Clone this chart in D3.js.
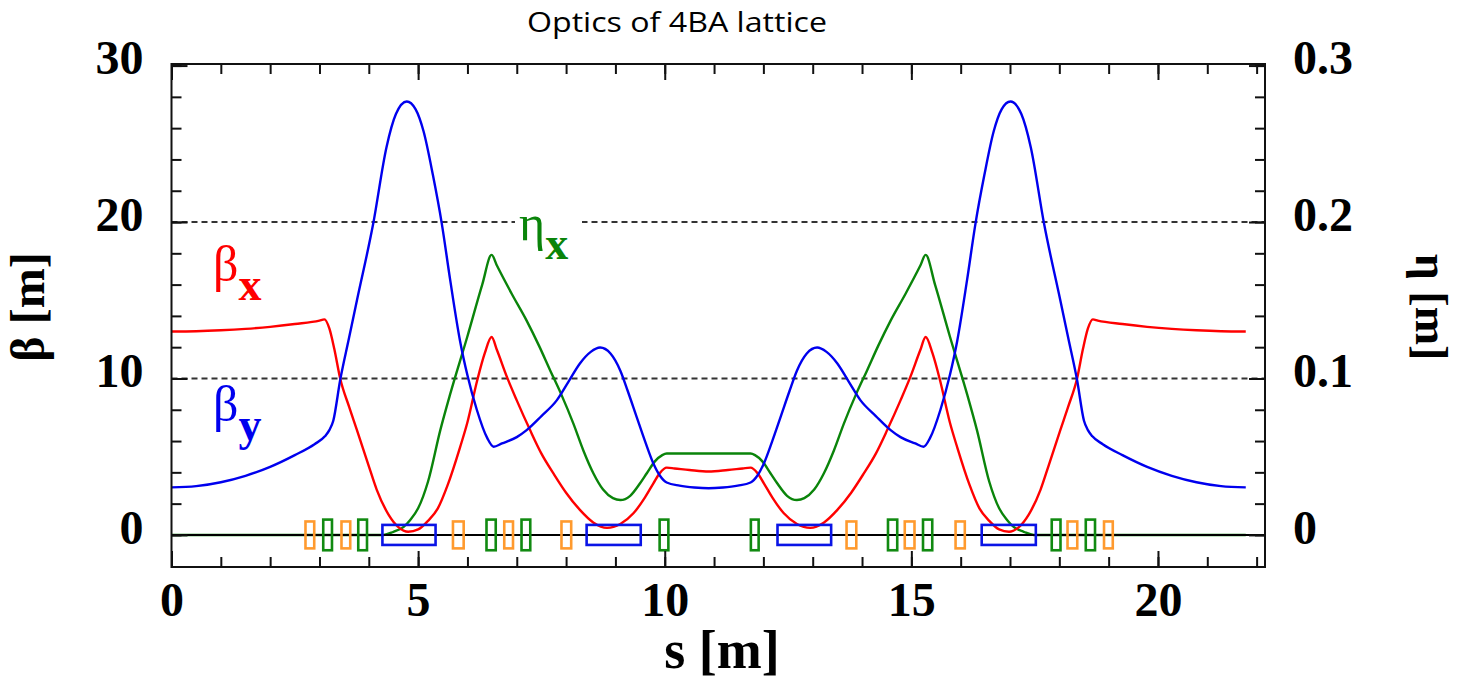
<!DOCTYPE html>
<html>
<head>
<meta charset="utf-8">
<script src="https://cdn.jsdelivr.net/npm/d3@7"></script>
<style>
  body { margin: 0; background: #fff; }
  svg { display: block; }
</style>
</head>
<body>
<svg id="chart" width="1458" height="685"></svg>
<script>
// Beta functions and dispersion (s in m).
const sBetaX = [0, 0.5, 1.0, 1.5, 2.0, 2.5, 3.0, 3.1, 3.2, 3.3, 3.42, 3.6, 3.76, 4.0, 4.16, 4.4, 4.6, 4.8, 5.0, 5.2, 5.4, 5.6, 5.85, 6.0, 6.2, 6.35, 6.49, 6.6, 6.8, 7.0, 7.27, 7.5, 7.75, 8.0, 8.28, 8.55, 8.83, 9.1, 9.37, 9.6, 9.77, 9.9, 10.04, 10.2, 10.5, 10.89,
  11.28, 11.58, 11.74, 11.88, 12.01, 12.18, 12.41, 12.68, 12.95, 13.23, 13.5, 13.78, 14.03, 14.28, 14.51, 14.78, 14.98, 15.18, 15.29, 15.43, 15.58, 15.78, 15.93, 16.18, 16.38, 16.58, 16.78, 16.98, 17.18, 17.38, 17.62, 17.78, 18.02, 18.18, 18.36, 18.48, 18.58, 18.68, 18.78, 19.28, 19.78, 20.28, 20.78, 21.28, 21.78];
const betaX = [13.0, 13.02, 13.08, 13.17, 13.3, 13.48, 13.7, 13.78, 13.2, 11.9, 10.0, 8.2, 6.7, 4.4, 2.9, 1.3, 0.5, 0.2, 0.35, 0.9, 1.7, 3.2, 5.6, 7.2, 9.9, 11.6, 12.65, 11.8, 10.1, 8.6, 6.7, 5.2, 3.9, 2.7, 1.6, 0.8, 0.45, 0.7, 1.4, 2.4, 3.3, 3.95, 4.3, 4.25, 4.15, 4.05,
  4.15, 4.25, 4.3, 3.95, 3.3, 2.4, 1.4, 0.7, 0.45, 0.8, 1.6, 2.7, 3.9, 5.2, 6.7, 8.6, 10.1, 11.8, 12.65, 11.6, 9.9, 7.2, 5.6, 3.2, 1.7, 0.9, 0.35, 0.2, 0.5, 1.3, 2.9, 4.4, 6.7, 8.2, 10.0, 11.9, 13.2, 13.78, 13.7, 13.48, 13.3, 13.17, 13.08, 13.02, 13.0];

const sBetaY = [0, 0.5, 1.0, 1.5, 2.0, 2.5, 2.9, 3.11, 3.2, 3.28, 3.42, 3.6, 3.76, 4.09, 4.36, 4.55, 4.77, 4.95, 5.11, 5.3, 5.48, 5.65, 5.85, 6.0, 6.19, 6.4, 6.53, 6.7, 7.0, 7.2, 7.5, 7.81, 8.05, 8.28, 8.5, 8.69, 8.9, 9.1, 9.25, 9.43, 9.6, 9.77, 9.9, 10.04, 10.3, 10.6, 10.89,
  11.18, 11.48, 11.74, 11.88, 12.01, 12.18, 12.35, 12.53, 12.68, 12.88, 13.09, 13.28, 13.5, 13.73, 13.97, 14.28, 14.58, 14.78, 15.08, 15.25, 15.38, 15.59, 15.78, 15.93, 16.13, 16.3, 16.48, 16.67, 16.83, 17.01, 17.23, 17.42, 17.69, 18.02, 18.18, 18.36, 18.5, 18.58, 18.67, 18.88, 19.28, 19.78, 20.28, 20.78, 21.28, 21.78];
const betaY = [3.04, 3.12, 3.37, 3.78, 4.35, 5.1, 5.8, 6.3, 6.7, 7.3, 9.9, 12.6, 15.0, 19.9, 24.8, 26.9, 27.7, 27.2, 25.8, 23.0, 19.9, 16.3, 12.4, 10.2, 8.0, 6.2, 5.64, 5.85, 6.25, 6.7, 7.6, 8.6, 9.8, 10.96, 11.7, 11.98, 11.6, 10.5, 9.2, 7.55, 6.0, 4.57, 3.8, 3.35, 3.15, 3.03, 2.98,
  3.03, 3.15, 3.35, 3.8, 4.57, 6.0, 7.55, 9.2, 10.5, 11.6, 11.98, 11.7, 10.96, 9.8, 8.6, 7.6, 6.7, 6.25, 5.85, 5.64, 6.2, 8.0, 10.2, 12.4, 16.3, 19.9, 23.0, 25.8, 27.2, 27.7, 26.9, 24.8, 19.9, 15.0, 12.6, 9.9, 7.3, 6.7, 6.3, 5.8, 5.1, 4.35, 3.78, 3.37, 3.12, 3.04];

const sEtaX = [0, 4.3, 4.5, 4.7, 4.84, 5.0, 5.2, 5.45, 5.65, 6.0, 6.3, 6.49, 6.6, 6.9, 7.2, 7.45, 7.68, 7.9, 8.15, 8.35, 8.55, 8.75, 8.95, 9.1, 9.3, 9.5, 9.64, 9.8, 9.95, 10.04, 10.89,
  11.74, 11.83, 11.98, 12.14, 12.28, 12.48, 12.68, 12.83, 13.03, 13.23, 13.43, 13.63, 13.88, 14.1, 14.33, 14.58, 14.88, 15.18, 15.29, 15.48, 15.78, 16.13, 16.33, 16.58, 16.78, 16.94, 17.08, 17.28, 17.48, 21.78];
const etaX = [0, 0, 0.002, 0.005, 0.0096, 0.017, 0.034, 0.067, 0.09, 0.127, 0.16, 0.179, 0.172, 0.154, 0.137, 0.121, 0.105, 0.09, 0.071, 0.054, 0.0396, 0.029, 0.0235, 0.0223, 0.025, 0.033, 0.0396, 0.047, 0.051, 0.052, 0.052,
  0.052, 0.051, 0.047, 0.0396, 0.033, 0.025, 0.0223, 0.0235, 0.029, 0.0396, 0.054, 0.071, 0.09, 0.105, 0.121, 0.137, 0.154, 0.172, 0.179, 0.16, 0.127, 0.09, 0.067, 0.034, 0.017, 0.0096, 0.005, 0.002, 0, 0];

// Magnet positions [start, end] in m.
const quadrupoles = [[3.05, 3.28], [3.76, 3.99], [6.36, 6.6], [7.07, 7.3], [9.87, 10.1], [11.72, 11.93], [14.5, 14.74], [15.21, 15.45], [17.82, 18.05], [18.51, 18.75]];
const sextupoles = [[2.69, 2.92], [3.42, 3.65], [5.68, 5.95], [6.72, 6.95], [7.88, 8.13], [13.66, 13.91], [14.84, 15.09], [15.87, 16.11], [18.14, 18.39], [18.88, 19.11]];
const dipoles = [[4.25, 5.38], [8.39, 9.54], [12.26, 13.4], [16.4, 17.55]];

// Ticks
const betaTicks = [0, 10, 20, 30];
const etaTicks = [0, 0.1, 0.2, 0.3];
const sTicks = [0, 5, 10, 15, 20];

const serif = 'Liberation Serif, Times New Roman, serif';
const plot = { left: 171.5, right: 1265, top: 64, bottom: 567 };

const svg = d3.select('#chart');
const x = d3.scaleLinear().domain([0, 22.17]).range([plot.left, plot.right]);
const y = d3.scaleLinear().domain([-2.05, 30.1]).range([plot.bottom, plot.top]);
const yEta = d3.scaleLinear().domain([-0.0205, 0.301]).range([plot.bottom, plot.top]);

svg.append('rect').attr('width', 1458).attr('height', 685).attr('fill', '#fff');

// Title
svg.append('text')
  .attr('x', 677).attr('y', 32)
  .attr('text-anchor', 'middle')
  .attr('font-family', 'Open Sans, sans-serif')
  .attr('font-size', 28)
  .attr('textLength', 300)
  .attr('lengthAdjust', 'spacingAndGlyphs')
  .text('Optics of 4BA lattice');

// Dashed reference lines at 10 and 20
svg.append('g').selectAll('line')
  .data([10, 20])
  .join('line')
  .attr('x1', plot.left).attr('x2', plot.right)
  .attr('y1', (d) => y(d)).attr('y2', (d) => y(d))
  .attr('stroke', '#333')
  .attr('stroke-width', 2)
  .attr('stroke-dasharray', '6,4');

// Magnets
function drawMagnets(data, half, color) {
  svg.append('g').selectAll('rect')
    .data(data)
    .join('rect')
    .attr('x', (d) => x(d[0]) + 1.3)
    .attr('width', (d) => x(d[1]) - x(d[0]) - 2.6)
    .attr('y', y(half))
    .attr('height', y(-half) - y(half))
    .attr('fill', 'none')
    .attr('stroke', color)
    .attr('stroke-width', 2.6);
}

// Curves
function drawCurve(sArr, vArr, scale, color) {
  const line = d3.line()
    .x((d) => x(d[0]))
    .y((d) => scale(d[1]))
    .curve(d3.curveMonotoneX);
  svg.append('path')
    .datum(d3.zip(sArr, vArr))
    .attr('d', line)
    .attr('fill', 'none')
    .attr('stroke', color)
    .attr('stroke-width', 2.4);
}
drawCurve(sEtaX, etaX, yEta, '#0a840a');
drawCurve(sBetaX, betaX, y, '#ff0000');
drawCurve(sBetaY, betaY, y, '#0000ee');

// Zero line (over the flat part of eta)
svg.append('line')
  .attr('x1', plot.left).attr('x2', plot.right)
  .attr('y1', y(0)).attr('y2', y(0))
  .attr('stroke', '#000')
  .attr('stroke-width', 2);

drawMagnets(sextupoles, 0.86, '#ff9a2e');
drawMagnets(quadrupoles, 0.98, '#118a11');
drawMagnets(dipoles, 0.64, '#0a14e6');

// Axes (ticks point inward)
function styleAxis(g) {
  g.select('.domain').remove();
  g.selectAll('line').attr('stroke', '#111').attr('stroke-width', 2);
  g.selectAll('text')
    .attr('font-family', serif)
    .attr('font-weight', 'bold')
    .attr('font-size', 48)
    .attr('fill', '#000');
}
const minorBeta = d3.range(0, 31, 2);
const minorS = d3.range(0, 23, 1);

svg.append('g').attr('transform', `translate(${plot.left},0)`)
  .call(d3.axisLeft(y).tickValues(minorBeta).tickSize(-10).tickFormat(''))
  .call(styleAxis);
svg.append('g').attr('transform', `translate(${plot.left},0)`)
  .call(d3.axisLeft(y).tickValues(betaTicks).tickSize(-16).tickPadding(28).tickFormat(d3.format('d')))
  .call(styleAxis)
  .call((g) => g.selectAll('text').attr('dy', '0.17em'));

svg.append('g').attr('transform', `translate(${plot.right},0)`)
  .call(d3.axisRight(yEta).tickValues(minorBeta.map((d) => d / 100)).tickSize(-10).tickFormat(''))
  .call(styleAxis);
svg.append('g').attr('transform', `translate(${plot.right},0)`)
  .call(d3.axisRight(yEta).tickValues(etaTicks).tickSize(-16).tickPadding(28)
    .tickFormat((d) => (d === 0 ? '0' : d.toFixed(1))))
  .call(styleAxis)
  .call((g) => g.selectAll('text').attr('dy', '0.17em'));

svg.append('g').attr('transform', `translate(0,${plot.bottom})`)
  .call(d3.axisBottom(x).tickValues(minorS).tickSize(-10).tickFormat(''))
  .call(styleAxis);
svg.append('g').attr('transform', `translate(0,${plot.bottom})`)
  .call(d3.axisBottom(x).tickValues(sTicks).tickSize(-16).tickFormat(d3.format('d')))
  .call(styleAxis)
  .call((g) => g.selectAll('text').attr('y', 49).attr('dy', 0));

svg.append('g').attr('transform', `translate(0,${plot.top})`)
  .call(d3.axisTop(x).tickValues(minorS).tickSize(-10).tickFormat(''))
  .call(styleAxis);
svg.append('g').attr('transform', `translate(0,${plot.top})`)
  .call(d3.axisTop(x).tickValues(sTicks).tickSize(-16).tickFormat(''))
  .call(styleAxis);

// Frame
svg.append('rect')
  .attr('x', plot.left).attr('y', plot.top)
  .attr('width', plot.right - plot.left)
  .attr('height', plot.bottom - plot.top)
  .attr('fill', 'none')
  .attr('stroke', '#111')
  .attr('stroke-width', 2);

// Axis titles
svg.append('text')
  .attr('transform', 'translate(44,307) rotate(-90)')
  .attr('text-anchor', 'middle')
  .attr('font-family', serif).attr('font-weight', 'bold').attr('font-size', 48)
  .text('β [m]');
svg.append('text')
  .attr('transform', 'translate(1416,307) rotate(90)')
  .attr('text-anchor', 'middle')
  .attr('font-family', serif).attr('font-weight', 'bold').attr('font-size', 46)
  .text('η [m]');
svg.append('text')
  .attr('x', 722).attr('y', 668)
  .attr('text-anchor', 'middle')
  .attr('font-family', serif).attr('font-weight', 'bold').attr('font-size', 54)
  .text('s [m]');

// Curve labels
function curveLabel(lx, ly, sym, sub, color, bg) {
  if (bg) {
    svg.append('rect')
      .attr('x', bg[0]).attr('y', bg[1]).attr('width', bg[2]).attr('height', bg[3])
      .attr('fill', '#fff');
  }
  const t = svg.append('text')
    .attr('x', lx).attr('y', ly)
    .attr('font-family', serif)
    .attr('font-size', 50)
    .attr('fill', color)
    .text(sym);
  t.append('tspan')
    .attr('dy', 19)
    .attr('font-weight', 'bold')
    .attr('font-size', 46)
    .text(sub);
}
curveLabel(213, 281, 'β', 'x', '#ff0000');
curveLabel(213, 421, 'β', 'y', '#0000ee');
curveLabel(519, 240, 'η', 'x', '#0a840a', [515, 210, 67, 55]);
</script>
</body>
</html>
